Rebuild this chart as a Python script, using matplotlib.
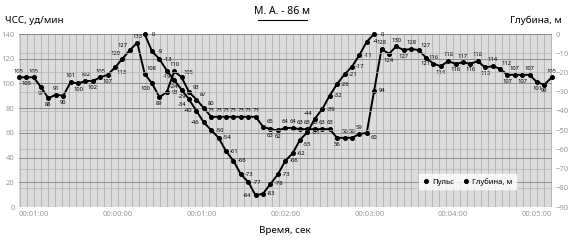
import numpy as np
import matplotlib

matplotlib.use("Agg")
import matplotlib.pyplot as plt
from matplotlib.lines import Line2D

plt.rcParams["font.family"] = ["Noto Sans", "DejaVu Sans"]

# heart rate, one reading per sample
PULSE = [105, 105, 105, 97, 88, 91, 90, 101, 100, 102, 102, 105, 107, 113, 120, 127, 133,
         108, 100, 89, 93, 110, 105, 93, 87, 80,
         73, 73, 73, 73, 73, 73, 73, 65, 63, 62, 64, 64, 63, 63, 63, 63, 63,
         56, 56, 56, 59, 60, 94,
         128, 124, 130, 127, 128, 127, 121, 116, 114, 118, 116, 117, 116, 118, 113, 114, 112,
         107, 107, 107, 107, 101, 99, 105]
# depth during the dive, starts at sample DEPTH_START
DEPTH = [0, -9, -13, -19, -24, -29, -34, -40, -46, -50, -54, -61, -66, -73, -77, -84,
         -83, -78, -73, -66, -62, -55, -51, -44, -39, -32, -26, -21, -17, -11, -4, 0]
DEPTH_START = 17
T0 = -71.0      # seconds, first sample
STEP = 5.3      # seconds between samples
XTICKS = [-60, 0, 60, 120, 180, 240, 300]
XTICKLABELS = ["00:01:00", "00:00:00", "00:01:00", "00:02:00", "00:03:00", "00:04:00", "00:05:00"]

# label placement codes (style only)
PULSE_POS = ("a b a b b a b a b a b a b br al al a ar bl b r a ar ar ar ar "
             "a a a a a a a ar b b a a a a a a a b a a a br r "
             "a b a b a ar b a b a b a b a b a ar b a b a b b a").split()
DEPTH_POS = ("r r r b b b bl l l r r r r r r l "
             "r r r r r br r al r r r r r r r r").split()
OFFS = {"a": (0, 4.5), "b": (0, -4.5), "r": (6, 0), "l": (-6, 0),
        "ar": (5, 3.5), "br": (5, -3.5), "al": (-5, 3.5), "bl": (-5, -3.5)}

GRID_BG = "#dcdcdc"
TICK_C = "#9a9a9a"


def label_points(ax, xs, ys, pos):
    for x, y, p in zip(xs, ys, pos):
        dx, dy = OFFS[p]
        ax.annotate(str(y), (x, y), xytext=(dx, dy), textcoords="offset points",
                    ha="center", va="center", fontsize=4.2, fontweight="bold", zorder=6)


def main():
    t = T0 + STEP * np.arange(len(PULSE))
    td = t[DEPTH_START:DEPTH_START + len(DEPTH)]

    fig = plt.figure(figsize=(5.7, 2.45), dpi=100)
    ax = fig.add_axes([0.033, 0.155, 0.935, 0.706])
    ax.set_facecolor(GRID_BG)
    ax2 = ax.twinx()

    ax.set_xlim(t[0], t[-1])
    ax.set_ylim(0, 140)
    ax2.set_ylim(-90, 0)

    # grid
    for v in np.arange(-70, 315, 5):
        ax.axvline(v, color="#a8a8a8", lw=0.5, zorder=0)
    for v in range(20, 141, 20):
        ax.axhline(v, color="#8c8c8c", lw=0.7, zorder=0.5)
    for v in range(-80, 0, 10):
        ax2.axhline(v, color="#b4b4b4", lw=0.5, zorder=0.5)

    ax.plot(t, PULSE, "-o", color="black", lw=1.4, ms=2.6, zorder=4, clip_on=False)
    ax2.plot(td, DEPTH, "-o", color="black", lw=1.4, ms=2.6, zorder=4, clip_on=False)
    label_points(ax, t, PULSE, PULSE_POS)
    label_points(ax2, td, DEPTH, DEPTH_POS)

    ax.set_xticks(XTICKS)
    ax.set_xticklabels(XTICKLABELS)
    ax.set_yticks(range(0, 141, 20))
    ax2.set_yticks(range(-90, 1, 10))
    for a in (ax, ax2):
        a.tick_params(length=0, labelsize=5.5, colors=TICK_C, pad=3)
        for s in a.spines.values():
            s.set_visible(False)

    fig.text(0.008, 0.915, "ЧСС, уд/мин", fontsize=7, ha="left", va="center")
    fig.text(0.985, 0.915, "Глубина, м", fontsize=7, ha="right", va="center")
    fig.text(0.5, 0.06, "Время, сек", fontsize=7, ha="center", va="center")
    fig.text(0.495, 0.955, "М. А. - 86 м", fontsize=7.5, ha="center", va="center")
    fig.add_artist(Line2D([0.452, 0.539], [0.92, 0.92], color="black", lw=0.8))

    handles = [Line2D([], [], marker="o", ls="none", color="black", ms=2.6),
               Line2D([], [], marker="o", ls="none", color="black", ms=2.6)]
    leg = ax2.legend(handles, ["Пульс", "Глубина, м"], ncol=2, loc="lower left",
                     bbox_to_anchor=(0.743, 0.08, 0.197, 0.095), mode="expand",
                     fontsize=5.5, frameon=True, fancybox=False, borderpad=0.5,
                     handletextpad=0.3, columnspacing=1.0, handlelength=1.0)
    leg.get_frame().set_facecolor("white")
    leg.get_frame().set_edgecolor("white")
    leg.set_zorder(10)

    fig.savefig("out.png", dpi=100)


if __name__ == "__main__":
    main()
